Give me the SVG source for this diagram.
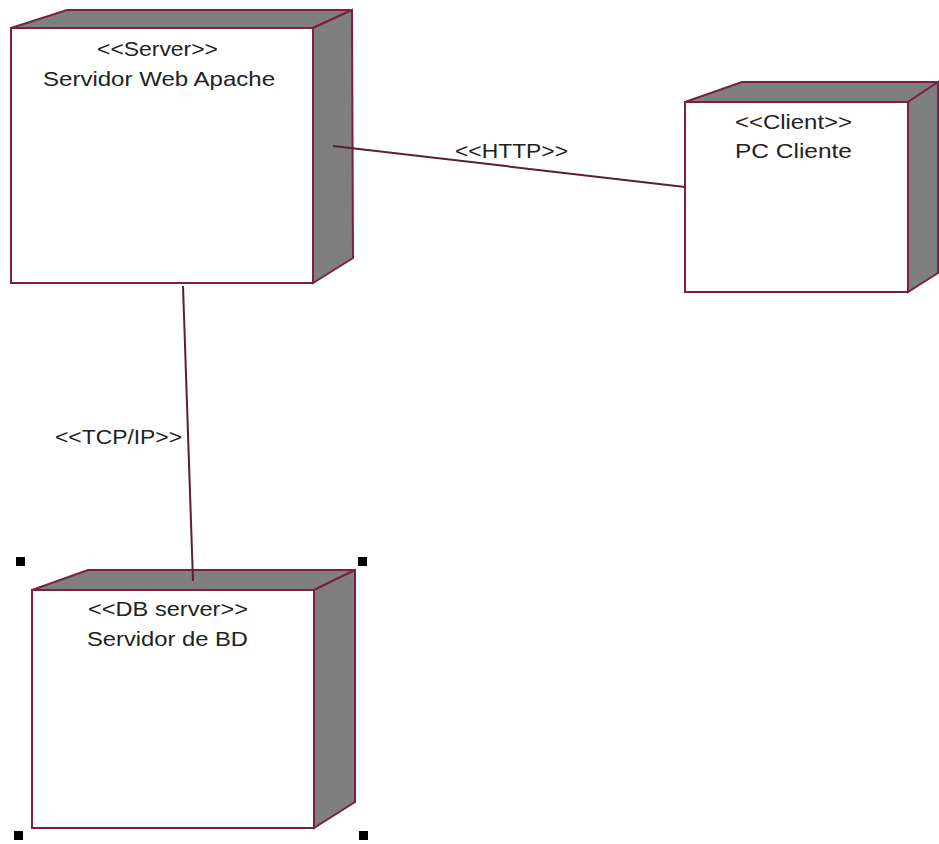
<svg xmlns="http://www.w3.org/2000/svg" width="939" height="844" viewBox="0 0 939 844">
<style>
.front{fill:#ffffff;stroke:#7d1f45;stroke-width:2}
.side{fill:#7f7f7f;stroke:#7d1f45;stroke-width:2;stroke-linejoin:miter}
.t{font-family:"Liberation Sans",Arial,sans-serif;font-size:21px;fill:#222;text-anchor:start}
.conn{stroke:#5a1f35;stroke-width:2;fill:none}
.h{fill:#000}
</style>
<rect width="939" height="844" fill="#fff"/>
<g id="server">
<polygon class="side" points="11,28 67,10 352,10 313,28"/>
<polygon class="side" points="313,28 352,10 353,258 313,283"/>
<rect class="front" x="11" y="28" width="302" height="255"/>
<text class="t" x="97" y="56" textLength="121" lengthAdjust="spacingAndGlyphs">&lt;&lt;Server&gt;&gt;</text>
<text class="t" x="43" y="86" textLength="232" lengthAdjust="spacingAndGlyphs">Servidor Web Apache</text>
</g>
<g id="client">
<polygon class="side" points="685,102 742,82 938,82 908,102"/>
<polygon class="side" points="908,102 938,82 938,273 908,292"/>
<rect class="front" x="685" y="102" width="223" height="190"/>
<text class="t" x="735" y="129" textLength="117" lengthAdjust="spacingAndGlyphs">&lt;&lt;Client&gt;&gt;</text>
<text class="t" x="735" y="158" textLength="117" lengthAdjust="spacingAndGlyphs">PC Cliente</text>
</g>
<g id="dbserver">
<polygon class="side" points="32,590 88,570 355,570 314,590"/>
<polygon class="side" points="314,590 355,570 355,802 314,828"/>
<rect class="front" x="32" y="590" width="282" height="238"/>
<text class="t" x="88" y="616" textLength="160" lengthAdjust="spacingAndGlyphs">&lt;&lt;DB server&gt;&gt;</text>
<text class="t" x="87" y="646" textLength="161" lengthAdjust="spacingAndGlyphs">Servidor de BD</text>
<rect class="h" x="16" y="557" width="9" height="9"/>
<rect class="h" x="358" y="557" width="9" height="9"/>
<rect class="h" x="14" y="831" width="9" height="9"/>
<rect class="h" x="359" y="831" width="9" height="9"/>
</g>
<g id="connectors">
<line class="conn" x1="333" y1="146" x2="685" y2="187"/>
<line class="conn" x1="183" y1="286" x2="193" y2="581"/>
<text class="t" x="455" y="158" textLength="113" lengthAdjust="spacingAndGlyphs">&lt;&lt;HTTP&gt;&gt;</text>
<text class="t" x="55" y="444" textLength="127" lengthAdjust="spacingAndGlyphs">&lt;&lt;TCP/IP&gt;&gt;</text>
</g>
</svg>
